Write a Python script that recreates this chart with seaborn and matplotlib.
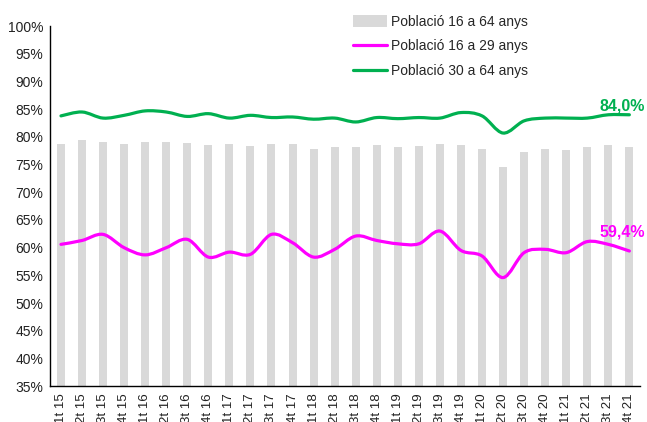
import numpy as np
import pandas as pd
import matplotlib
matplotlib.use("Agg")
import matplotlib.pyplot as plt
from matplotlib.path import Path
from matplotlib.patches import PathPatch, Patch
from matplotlib.lines import Line2D
import seaborn as sns

# Quarterly activity rates (%), Catalonia style chart
quarters = ["1t 15", "2t 15", "3t 15", "4t 15", "1t 16", "2t 16", "3t 16", "4t 16",
            "1t 17", "2t 17", "3t 17", "4t 17", "1t 18", "2t 18", "3t 18", "4t 18",
            "1t 19", "2t 19", "3t 19", "4t 19", "1t 20", "2t 20", "3t 20", "4t 20",
            "1t 21", "2t 21", "3t 21", "4t 21"]
pob_16_64 = [78.8, 79.5, 79.0, 78.8, 79.1, 79.1, 78.9, 78.6, 78.8, 78.4, 78.8, 78.7,
             77.8, 78.1, 78.1, 78.6, 78.2, 78.4, 78.7, 78.5, 77.9, 74.6, 77.2, 77.9,
             77.7, 78.1, 78.5, 78.2]
pob_16_29 = [60.6, 61.3, 62.4, 60.0, 58.7, 60.0, 61.5, 58.3, 59.2, 58.8, 62.4, 60.9,
             58.3, 59.7, 62.1, 61.3, 60.7, 60.7, 63.0, 59.5, 58.5, 54.6, 59.1, 59.7,
             59.1, 61.1, 60.6, 59.4]
pob_30_64 = [83.8, 84.5, 83.4, 83.9, 84.7, 84.5, 83.7, 84.2, 83.4, 83.9, 83.5, 83.6,
             83.2, 83.4, 82.7, 83.5, 83.3, 83.5, 83.4, 84.4, 83.8, 80.7, 82.9, 83.4,
             83.4, 83.4, 84.0, 84.0]

GREY = "#D9D9D9"
MAGENTA = "#FF00FF"
GREEN = "#00B050"

sns.set_theme(style="white")
plt.rcParams["font.family"] = ["Liberation Sans", "DejaVu Sans"]

df = pd.DataFrame({"Trimestre": quarters, "Valor": pob_16_64})

fig = plt.figure(figsize=(6.47, 4.22), dpi=100)
ax = fig.add_axes([0.078, 0.085, 0.911, 0.853])

sns.barplot(data=df, x="Trimestre", y="Valor", color=GREY, width=0.38,
            saturation=1, edgecolor="none", ax=ax)


def smooth_path(xs, ys):
    # Excel-like smoothed line: cubic Bezier segments through every data point
    pts = np.column_stack([xs, ys]).astype(float)
    n = len(pts)
    verts = [pts[0]]
    codes = [Path.MOVETO]
    for i in range(n - 1):
        p0 = pts[i - 1] if i > 0 else pts[i]
        p1 = pts[i]
        p2 = pts[i + 1]
        p3 = pts[i + 2] if i + 2 < n else pts[i + 1]
        c1 = p1 + (p2 - p0) / 6.0
        c2 = p2 - (p3 - p1) / 6.0
        verts += [c1, c2, p2]
        codes += [Path.CURVE4] * 3
    return Path(verts, codes)


xpos = np.arange(len(quarters))
for vals, col in [(pob_16_29, MAGENTA), (pob_30_64, GREEN)]:
    ax.add_patch(PathPatch(smooth_path(xpos, vals), facecolor="none",
                           edgecolor=col, lw=2.3, capstyle="round", zorder=3))

ax.text(xpos[-1] + 0.75, pob_30_64[-1] + 0.3, f"{pob_30_64[-1]:.1f}%".replace(".", ","),
        color=GREEN, fontsize=11.5, fontweight="bold", ha="right", va="bottom", clip_on=False)
ax.text(xpos[-1] + 0.75, pob_16_29[-1] + 2.1, f"{pob_16_29[-1]:.1f}%".replace(".", ","),
        color=MAGENTA, fontsize=11.5, fontweight="bold", ha="right", va="bottom", clip_on=False)

ax.set_ylim(35, 100)
ax.set_xlim(-0.5, len(quarters) - 0.5)
ax.set_yticks(np.arange(35, 101, 5))
ax.set_yticklabels([f"{v}%" for v in range(35, 101, 5)], fontsize=10, color="#222222")
ax.set_xticks(xpos)
ax.set_xticklabels(quarters, rotation=90, fontsize=9.5, color="#222222")
ax.tick_params(axis="both", length=0, pad=5)
ax.set_xlabel("")
ax.set_ylabel("")
for side in ["top", "right"]:
    ax.spines[side].set_visible(False)
for side in ["left", "bottom"]:
    ax.spines[side].set_color("black")
    ax.spines[side].set_linewidth(1.0)

handles = [Patch(facecolor=GREY, edgecolor="none"),
           Line2D([0], [0], color=MAGENTA, lw=2.3),
           Line2D([0], [0], color=GREEN, lw=2.3)]
labels = ["Població 16 a 64 anys", "Població 16 a 29 anys", "Població 30 a 64 anys"]
fig.legend(handles, labels, loc="upper left", bbox_to_anchor=(0.532, 0.985),
           frameon=False, fontsize=10, handlelength=2.5, handleheight=0.9,
           handletextpad=0.25, labelspacing=0.78, borderaxespad=0.2)

fig.savefig("out.png", dpi=100)
